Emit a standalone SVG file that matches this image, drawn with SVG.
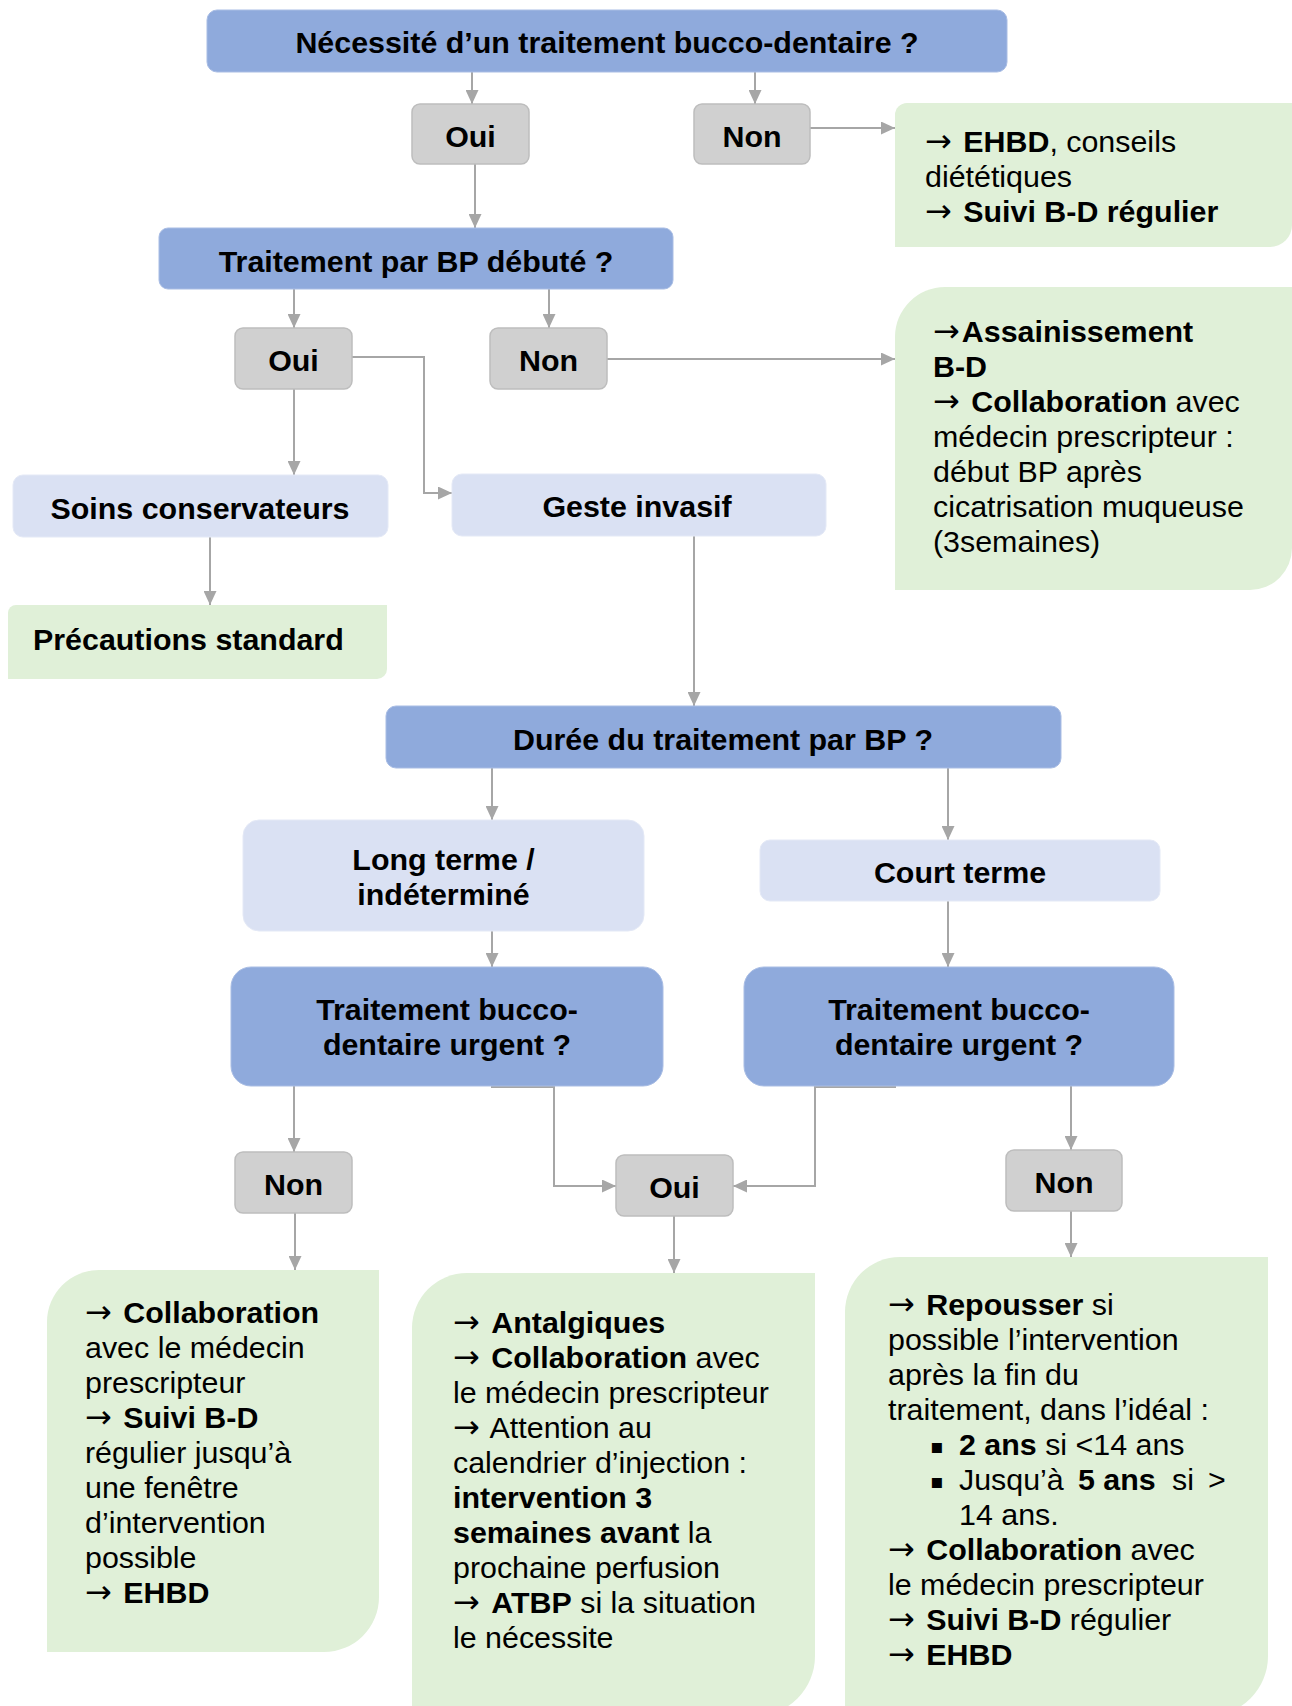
<svg xmlns="http://www.w3.org/2000/svg" width="1292" height="1706" viewBox="0 0 1292 1706">
<defs>
<style>
text{font-family:"Liberation Sans",Arial,sans-serif;font-size:30.4px;fill:#000}
.c{text-anchor:middle;font-weight:bold}
.b{font-weight:bold}
.ar{font-family:"DejaVu Sans",sans-serif;font-weight:normal;font-size:32px}
.q{fill:#8FAADC;stroke:#A9BDE4;stroke-width:1}
.lb{fill:#DAE1F3;stroke:#E4E9F6;stroke-width:1}
.g{fill:#D0D0D0;stroke:#BDBDBD;stroke-width:1.5}
.gr{fill:#E0F0D8}
.con path{fill:none;stroke:#A6A6A6;stroke-width:2;marker-end:url(#ah)}
.bul{font-family:"DejaVu Sans",sans-serif;font-size:20px}
</style>
<marker id="ah" viewBox="0 0 14 13" refX="14" refY="6.5" markerWidth="14" markerHeight="13" markerUnits="userSpaceOnUse" orient="auto">
<path d="M0,0 L14,6.5 L0,13 Z" fill="#A6A6A6"/>
</marker>
</defs>

<g id="connectors" class="con">
<path d="M472,72 V104"/>
<path d="M755,72 V104"/>
<path d="M810,128 H895"/>
<path d="M475,164 V228"/>
<path d="M294,289 V328"/>
<path d="M549,289 V328"/>
<path d="M607,359 H895"/>
<path d="M294,389 V475"/>
<path d="M352,357 H424 V493 H452"/>
<path d="M210,537 V605"/>
<path d="M694,536 V706"/>
<path d="M492,768 V820"/>
<path d="M948,768 V840"/>
<path d="M492,931 V967"/>
<path d="M948,901 V967"/>
<path d="M294,1086 V1152"/>
<path d="M491,1087 H554 V1186 H616"/>
<path d="M896,1087 H815 V1186 H733"/>
<path d="M1071,1086 V1150"/>
<path d="M295,1213 V1270"/>
<path d="M674,1216 V1273"/>
<path d="M1071,1211 V1257"/>
</g>

<g id="n-necessite">
<rect class="q" x="207" y="10" width="800" height="62" rx="10"/>
<text class="c" x="607" y="53">Nécessité d’un traitement bucco-dentaire ?</text>
</g>
<g id="n-oui1">
<rect class="g" x="412" y="104" width="117" height="60" rx="8"/>
<text class="c" x="470.5" y="147">Oui</text>
</g>
<g id="n-non1">
<rect class="g" x="694" y="104" width="116" height="60" rx="8"/>
<text class="c" x="752" y="147">Non</text>
</g>
<g id="n-ehbd">
<path class="gr" d="M907,103 H1292 V225 A22,22 0 0 1 1270,247 H895 V115 A12,12 0 0 1 907,103 Z"/>
<text x="925" y="152"><tspan class="ar">→</tspan> <tspan class="b" dx="3">EHBD</tspan>, conseils</text>
<text x="925" y="187">diététiques</text>
<text x="925" y="222"><tspan class="ar">→</tspan> <tspan class="b" dx="3">Suivi B-D régulier</tspan></text>
</g>
<g id="n-bp-debute">
<rect class="q" x="159" y="228" width="514" height="61" rx="9"/>
<text class="c" x="416" y="272">Traitement par BP débuté ?</text>
</g>
<g id="n-oui2">
<rect class="g" x="235" y="328" width="117" height="61" rx="8"/>
<text class="c" x="293.5" y="371">Oui</text>
</g>
<g id="n-non2">
<rect class="g" x="490" y="328" width="117" height="61" rx="8"/>
<text class="c" x="548.5" y="371">Non</text>
</g>
<g id="n-assainissement">
<path class="gr" d="M945,287 H1292 V548 A42,42 0 0 1 1250,590 H895 V337 A50,50 0 0 1 945,287 Z"/>
<text x="933" y="342"><tspan class="ar">→</tspan><tspan class="b" dx="2">Assainissement</tspan></text>
<text x="933" y="377" class="b">B-D</text>
<text x="933" y="412"><tspan class="ar">→</tspan> <tspan class="b" dx="3">Collaboration</tspan> avec</text>
<text x="933" y="447">médecin prescripteur :</text>
<text x="933" y="482">début BP après</text>
<text x="933" y="517">cicatrisation muqueuse</text>
<text x="933" y="552">(3semaines)</text>
</g>
<g id="n-soins">
<rect class="lb" x="13" y="475" width="375" height="62" rx="10"/>
<text class="c" x="200" y="519">Soins conservateurs</text>
</g>
<g id="n-geste">
<rect class="lb" x="452" y="474" width="374" height="62" rx="10"/>
<text class="c" x="637" y="517">Geste invasif</text>
</g>
<g id="n-precautions">
<path class="gr" d="M16,605 H387 V669 A10,10 0 0 1 377,679 H8 V613 A8,8 0 0 1 16,605 Z"/>
<text class="b" x="33" y="650">Précautions standard</text>
</g>
<g id="n-duree">
<rect class="q" x="386" y="706" width="675" height="62" rx="10"/>
<text class="c" x="723" y="750">Durée du traitement par BP ?</text>
</g>
<g id="n-long">
<rect class="lb" x="243" y="820" width="401" height="111" rx="16"/>
<text class="c" x="443.5" y="870">Long terme /</text>
<text class="c" x="443.5" y="905">indéterminé</text>
</g>
<g id="n-court">
<rect class="lb" x="760" y="840" width="400" height="61" rx="10"/>
<text class="c" x="960" y="883">Court terme</text>
</g>
<g id="n-urgent-long">
<rect class="q" x="231" y="967" width="432" height="119" rx="20"/>
<text class="c" x="447" y="1020">Traitement bucco-</text>
<text class="c" x="447" y="1055">dentaire urgent ?</text>
</g>
<g id="n-urgent-court">
<rect class="q" x="744" y="967" width="430" height="119" rx="20"/>
<text class="c" x="959" y="1020">Traitement bucco-</text>
<text class="c" x="959" y="1055">dentaire urgent ?</text>
</g>
<g id="n-non-long">
<rect class="g" x="235" y="1152" width="117" height="61" rx="8"/>
<text class="c" x="293.5" y="1195">Non</text>
</g>
<g id="n-oui3">
<rect class="g" x="616" y="1155" width="117" height="61" rx="8"/>
<text class="c" x="674.5" y="1198">Oui</text>
</g>
<g id="n-non-court">
<rect class="g" x="1006" y="1150" width="116" height="61" rx="8"/>
<text class="c" x="1064" y="1193">Non</text>
</g>
<g id="n-res-long">
<path class="gr" d="M99,1270 H379 V1597 A55,55 0 0 1 324,1652 H47 V1322 A52,52 0 0 1 99,1270 Z"/>
<text x="85" y="1323"><tspan class="ar">→</tspan> <tspan class="b" dx="3">Collaboration</tspan></text>
<text x="85" y="1358">avec le médecin</text>
<text x="85" y="1393">prescripteur</text>
<text x="85" y="1428"><tspan class="ar">→</tspan> <tspan class="b" dx="3">Suivi B-D</tspan></text>
<text x="85" y="1463">régulier jusqu’à</text>
<text x="85" y="1498">une fenêtre</text>
<text x="85" y="1533">d’intervention</text>
<text x="85" y="1568">possible</text>
<text x="85" y="1603"><tspan class="ar">→</tspan> <tspan class="b" dx="3">EHBD</tspan></text>
</g>
<g id="n-res-oui">
<path class="gr" d="M467,1273 H815 V1656 A60,60 0 0 1 755,1716 H412 V1328 A55,55 0 0 1 467,1273 Z"/>
<text x="453" y="1333"><tspan class="ar">→</tspan> <tspan class="b" dx="3">Antalgiques</tspan></text>
<text x="453" y="1368"><tspan class="ar">→</tspan> <tspan class="b" dx="3">Collaboration</tspan> avec</text>
<text x="453" y="1403">le médecin prescripteur</text>
<text x="453" y="1438"><tspan class="ar">→</tspan> <tspan dx="3">Attention au</tspan></text>
<text x="453" y="1473">calendrier d’injection :</text>
<text x="453" y="1508" class="b">intervention 3</text>
<text x="453" y="1543"><tspan class="b">semaines avant</tspan> la</text>
<text x="453" y="1578">prochaine perfusion</text>
<text x="453" y="1613"><tspan class="ar">→</tspan> <tspan class="b" dx="3">ATBP</tspan> si la situation</text>
<text x="453" y="1648">le nécessite</text>
</g>
<g id="n-res-court">
<path class="gr" d="M900,1257 H1268 V1656 A60,60 0 0 1 1208,1716 H845 V1312 A55,55 0 0 1 900,1257 Z"/>
<text x="888" y="1315"><tspan class="ar">→</tspan> <tspan class="b" dx="3">Repousser</tspan> si</text>
<text x="888" y="1350">possible l’intervention</text>
<text x="888" y="1385">après la fin du</text>
<text x="888" y="1420">traitement, dans l’idéal :</text>
<text class="bul" x="930" y="1453">▪</text>
<text x="959" y="1455"><tspan class="b">2 ans</tspan> si &lt;14 ans</text>
<text class="bul" x="930" y="1488">▪</text>
<text y="1490"><tspan x="959">Jusqu’à</tspan><tspan x="1078" class="b">5 ans</tspan><tspan x="1172">si</tspan><tspan x="1208">&gt;</tspan></text>
<text x="959" y="1525">14 ans.</text>
<text x="888" y="1560"><tspan class="ar">→</tspan> <tspan class="b" dx="3">Collaboration</tspan> avec</text>
<text x="888" y="1595">le médecin prescripteur</text>
<text x="888" y="1630"><tspan class="ar">→</tspan> <tspan class="b" dx="3">Suivi B-D</tspan> régulier</text>
<text x="888" y="1665"><tspan class="ar">→</tspan> <tspan class="b" dx="3">EHBD</tspan></text>
</g>
</svg>
